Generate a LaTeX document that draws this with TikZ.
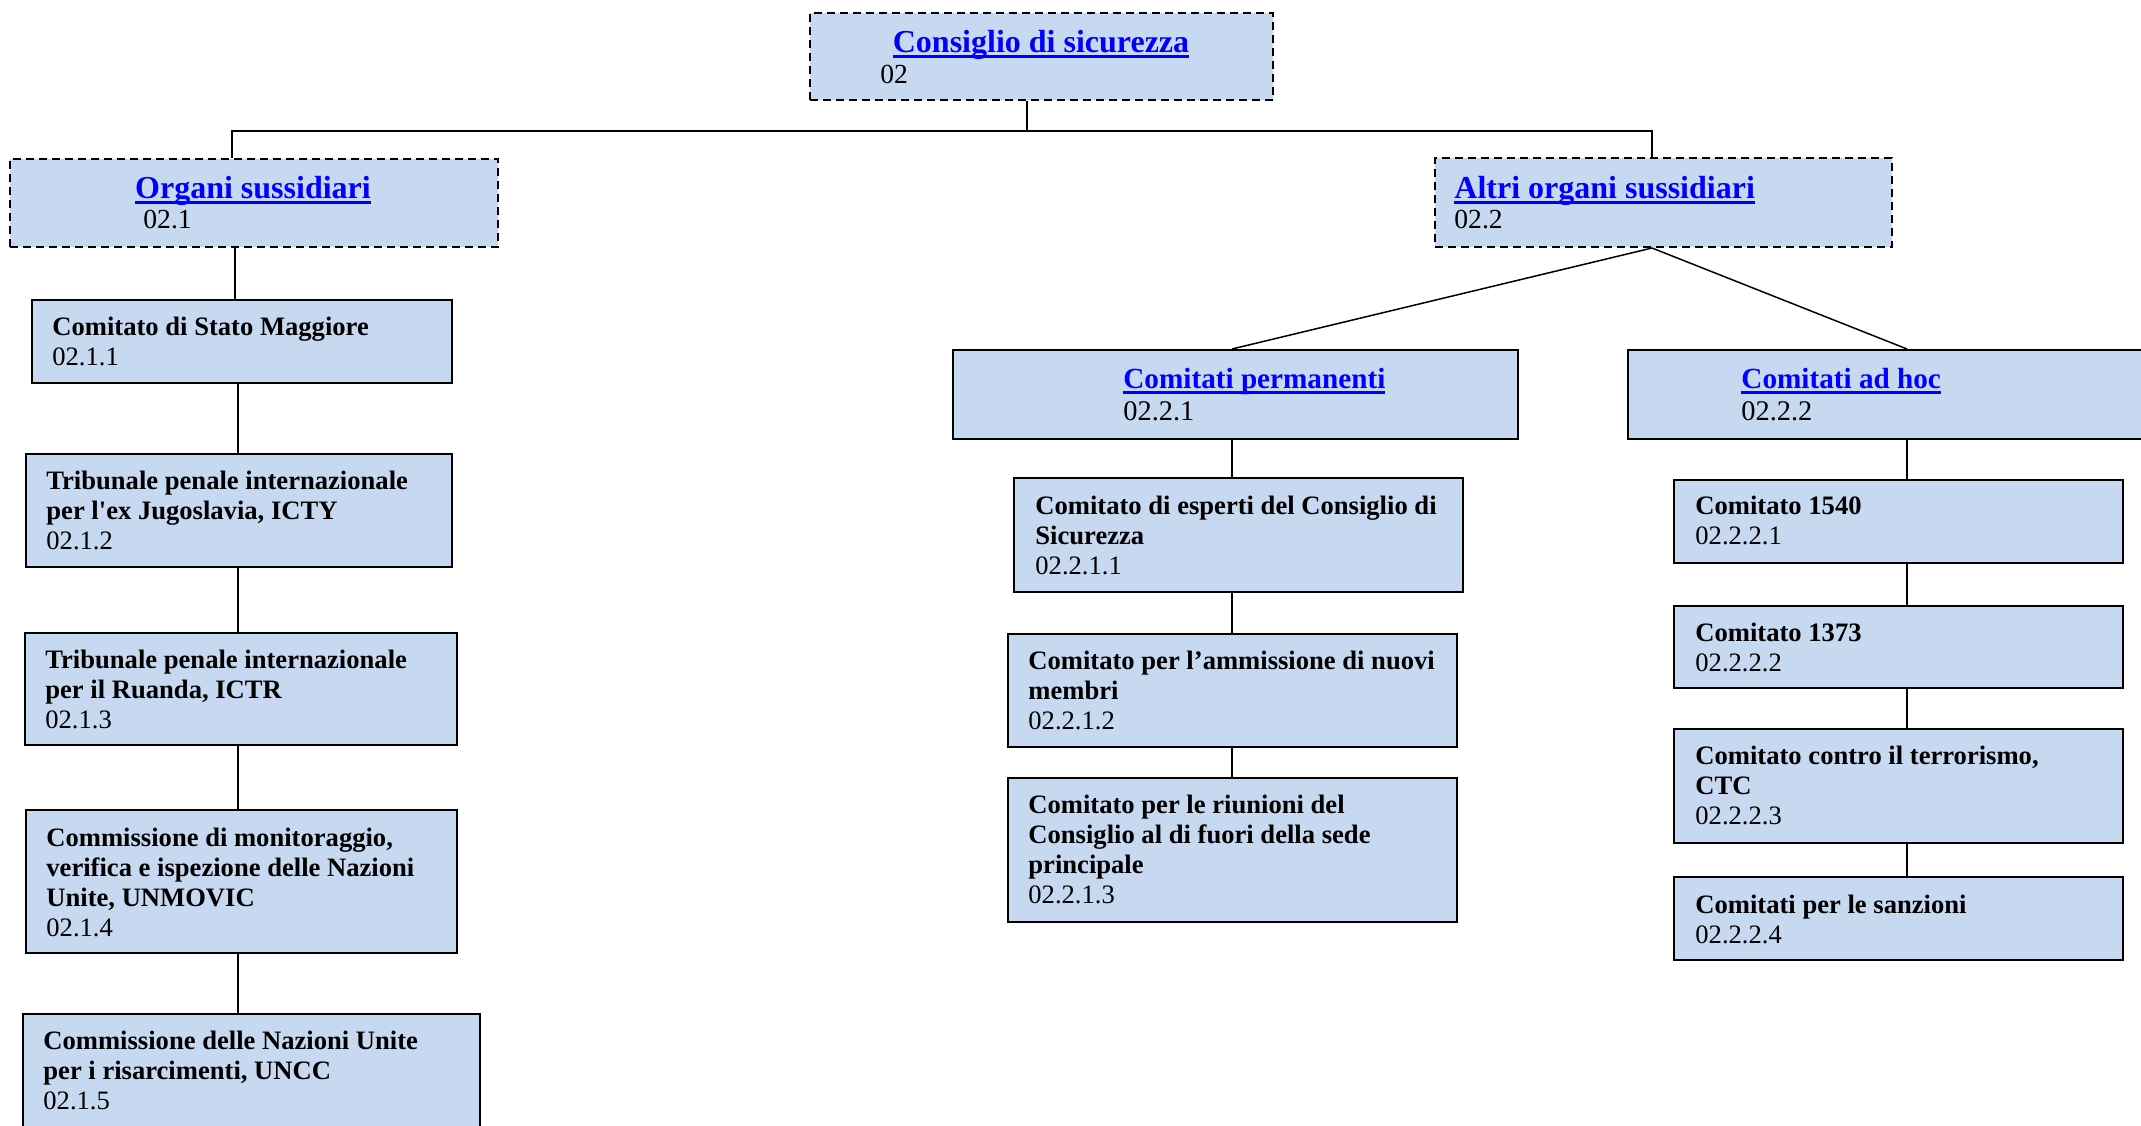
\documentclass[tikz,border=0pt]{standalone}
\usepackage{fontspec}
\setmainfont{Liberation Serif}
\definecolor{boxblue}{HTML}{C6D9F0}
\definecolor{linkblue}{HTML}{0000FF}
\newcommand\ulink[1]{\setbox0\hbox{#1}\rlap{\rule[-3.2pt]{\wd0}{1.5pt}}\box0}
\newcommand\bxt[2]{\parbox[t]{240pt}{\raggedright\fontsize{13.3}{15}\selectfont\textbf{#1}\\#2}}
\tikzset{
  box/.style={draw=black, line width=1pt, fill=boxblue, rectangle, anchor=north west, inner sep=0pt},
  dbox/.style={box, dash pattern=on 4pt off 2.5pt},
  conn/.style={draw=black, line width=0.75pt},
  ttl/.style={inner sep=0pt, anchor=base, text=linkblue, font=\fontsize{16}{19}\selectfont\bfseries},
  sttl/.style={ttl, anchor=base west, font=\fontsize{14.6}{17}\selectfont\bfseries},
  num/.style={inner sep=0pt, anchor=base west, font=\fontsize{13.8}{16}\selectfont},
  snum/.style={num, font=\fontsize{14.2}{16}\selectfont},
  txt/.style={inner sep=0pt, anchor=base west, yshift=-0.75pt},
}
\begin{document}
\begin{tikzpicture}[x=0.5pt, y=-0.5pt]
\useasboundingbox (0,0) rectangle (2141,1125);
% boxes
\node[dbox, minimum width=463*0.5pt, minimum height=87*0.5pt] (cs) at (809,12) {};
\node[dbox, minimum width=488*0.5pt, minimum height=88*0.5pt] (os) at (9,158) {};
\node[dbox, minimum width=457*0.5pt, minimum height=89*0.5pt] (aos) at (1434,157) {};
\node[box, minimum width=420*0.5pt, minimum height=83*0.5pt] (sm) at (31,299) {};
\node[box, minimum width=426*0.5pt, minimum height=113*0.5pt] (icty) at (25,453) {};
\node[box, minimum width=432*0.5pt, minimum height=112*0.5pt] (ictr) at (24,632) {};
\node[box, minimum width=431*0.5pt, minimum height=143*0.5pt] (unm) at (25,809) {};
\node[box, minimum width=457*0.5pt, minimum height=140*0.5pt] (uncc) at (22,1013) {};
\node[box, minimum width=565*0.5pt, minimum height=89*0.5pt] (cp) at (952,349) {};
\node[box, minimum width=540*0.5pt, minimum height=89*0.5pt] (cah) at (1627,349) {};
\node[box, minimum width=449*0.5pt, minimum height=114*0.5pt] (esp) at (1013,477) {};
\node[box, minimum width=449*0.5pt, minimum height=113*0.5pt] (amm) at (1007,633) {};
\node[box, minimum width=449*0.5pt, minimum height=144*0.5pt] (riu) at (1007,777) {};
\node[box, minimum width=449*0.5pt, minimum height=83*0.5pt] (c1540) at (1673,479) {};
\node[box, minimum width=449*0.5pt, minimum height=82*0.5pt] (c1373) at (1673,605) {};
\node[box, minimum width=449*0.5pt, minimum height=114*0.5pt] (ctc) at (1673,728) {};
\node[box, minimum width=449*0.5pt, minimum height=83*0.5pt] (sanz) at (1673,876) {};
% connector guide coordinates
\coordinate (hub) at (1027,131);
\coordinate (xl0) at (232,0);
\coordinate (xl1) at (235,0);
\coordinate (xl2) at (238,0);
\coordinate (xr) at (1652,0);
\coordinate (xcp) at (1232,0);
\coordinate (xah) at (1907,0);
% connectors
\draw[conn] (cs.south -| hub) -- (hub);
\draw[conn] (os.north -| xl0) -- (xl0 |- hub) -- (xr |- hub) -- (aos.north -| xr);
\draw[conn] (os.south -| xl1) -- (sm.north -| xl1);
\draw[conn] (sm.south -| xl2) -- (icty.north -| xl2);
\draw[conn] (icty.south -| xl2) -- (ictr.north -| xl2);
\draw[conn] (ictr.south -| xl2) -- (unm.north -| xl2);
\draw[conn] (unm.south -| xl2) -- (uncc.north -| xl2);
\draw[conn] (aos.south -| xr) -- (cp.north -| xcp);
\draw[conn] (aos.south -| xr) -- (cah.north -| xah);
\draw[conn] (cp.south -| xcp) -- (esp.north -| xcp);
\draw[conn] (esp.south -| xcp) -- (amm.north -| xcp);
\draw[conn] (amm.south -| xcp) -- (riu.north -| xcp);
\draw[conn] (cah.south -| xah) -- (c1540.north -| xah);
\draw[conn] (c1540.south -| xah) -- (c1373.north -| xah);
\draw[conn] (c1373.south -| xah) -- (ctc.north -| xah);
\draw[conn] (ctc.south -| xah) -- (sanz.north -| xah);
% titles
\node[ttl] (cst) at (1041,52) {\ulink{Consiglio di sicurezza}};
\node[num] (csn) at (880,83) {02};
\node[ttl] (ost) at (253,198) {\ulink{Organi sussidiari}};
\node[num] (osn) at (143,228) {02.1};
\node[ttl, anchor=base west] (aost) at (1454,198) {\ulink{Altri organi sussidiari}};
\node[num] (aosn) at (1454,228) {02.2};
\node[sttl] (cpt) at (1123,388) {\ulink{Comitati permanenti}};
\node[snum] (cpn) at (1123,420) {02.2.1};
\node[sttl] (caht) at (1741,388) {\ulink{Comitati ad hoc}};
\node[snum] (cahn) at (1741,420) {02.2.2};
% box texts
\node[txt] (smt) at (52,334) {\bxt{Comitato di Stato Maggiore}{02.1.1}};
\node[txt] (ictyt) at (46,488) {\bxt{Tribunale penale internazionale\\per l\textquotesingle ex Jugoslavia, ICTY}{02.1.2}};
\node[txt] (ictrt) at (45,667) {\bxt{Tribunale penale internazionale\\per il Ruanda, ICTR}{02.1.3}};
\node[txt] (unmt) at (46,845) {\bxt{Commissione di monitoraggio,\\verifica e ispezione delle Nazioni\\Unite, UNMOVIC}{02.1.4}};
\node[txt] (uncct) at (43,1048) {\bxt{Commissione delle Nazioni Unite\\per i risarcimenti, UNCC}{02.1.5}};
\node[txt] (espt) at (1035,513) {\bxt{Comitato di esperti del Consiglio di\\Sicurezza}{02.2.1.1}};
\node[txt] (ammt) at (1028,668) {\bxt{Comitato per l’ammissione di nuovi\\membri}{02.2.1.2}};
\node[txt] (riut) at (1028,812) {\bxt{Comitato per le riunioni del\\Consiglio al di fuori della sede\\principale}{02.2.1.3}};
\node[txt] (c1540t) at (1695,513) {\bxt{Comitato 1540}{02.2.2.1}};
\node[txt] (c1373t) at (1695,640) {\bxt{Comitato 1373}{02.2.2.2}};
\node[txt] (ctct) at (1695,763) {\bxt{Comitato contro il terrorismo,\\CTC}{02.2.2.3}};
\node[txt] (sanzt) at (1695,912) {\bxt{Comitati per le sanzioni}{02.2.2.4}};
\end{tikzpicture}
\end{document}
